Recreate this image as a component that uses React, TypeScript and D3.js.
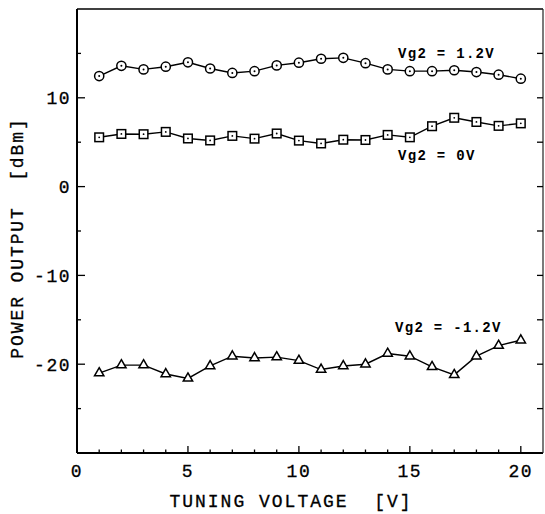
import React from "react";
import * as d3 from "d3";

const tuningVoltage = [1, 2, 3, 4, 5, 6, 7, 8, 9, 10, 11, 12, 13, 14, 15, 16, 17, 18, 19, 20];
const vgPos = [12.45, 13.6, 13.2, 13.5, 14.0, 13.3, 12.8, 13.0, 13.65, 13.95, 14.4, 14.5, 13.9, 13.2, 13.0, 13.0, 13.1, 12.9, 12.6, 12.15];
const vgZero = [5.55, 5.93, 5.9, 6.16, 5.42, 5.2, 5.71, 5.4, 5.98, 5.18, 4.86, 5.28, 5.25, 5.82, 5.55, 6.8, 7.75, 7.28, 6.84, 7.12];
const vgNeg = [-21.0, -20.1, -20.1, -21.1, -21.6, -20.2, -19.1, -19.3, -19.2, -19.6, -20.6, -20.2, -20.0, -18.8, -19.1, -20.3, -21.2, -19.1, -17.9, -17.3];
const seriesLabels = ["Vg2 = 1.2V", "Vg2 = 0V", "Vg2 = -1.2V"];
const xTickLabels = [0, 5, 10, 15, 20];
const yTickLabels = [10, 0, -10, -20];

const W = 545;
const H = 514;
const x = d3.scaleLinear().domain([0, 21]).range([77, 543]);
const y = d3.scaleLinear().domain([-30, 20]).range([453, 9]);
const mono = "'Liberation Mono', 'DejaVu Sans Mono', monospace";

export default function App() {
  const line = d3
    .line<number>()
    .x((_, i) => x(tuningVoltage[i]))
    .y((d) => y(d));
  const tri = d3.symbol().type(d3.symbolTriangle).size(38)() as string;
  const minorX = d3.range(1, 21);
  const minorY = d3.range(-25, 20, 5);
  const left = x(0);
  const right = x(21);
  const top = y(20);
  const bottom = y(-30);
  return (
    <svg width={W} height={H} style={{ position: "absolute", left: 0, top: 0, background: "#fff" }}>
      {/* frame */}
      <line x1={left} x2={left} y1={top} y2={bottom} stroke="#000" strokeWidth={2} />
      <line x1={left} x2={right} y1={bottom} y2={bottom} stroke="#000" strokeWidth={2} />
      <line x1={left} x2={right} y1={top} y2={top} stroke="#000" strokeWidth={1.6} />
      <line x1={right} x2={right} y1={top} y2={bottom} stroke="#222" strokeWidth={1.2} />
      {/* x ticks */}
      {minorX.map((v) => (
        <line key={"xt" + v} x1={x(v)} x2={x(v)} y1={bottom} y2={bottom - (v % 5 === 0 ? 7 : 3.5)} stroke="#000" strokeWidth={1.3} />
      ))}
      {xTickLabels.map((v) => (
        <text key={"xl" + v} x={x(v)} y={477} textAnchor="middle" fontFamily={mono} fontSize={18} letterSpacing={1.5} fill="#000" stroke="#000" strokeWidth={0.3}>
          {v}
        </text>
      ))}
      {/* y ticks */}
      {minorY.map((v) => (
        <g key={"yt" + v}>
          <line x1={left} x2={left + (v % 10 === 0 ? 8 : 4)} y1={y(v)} y2={y(v)} stroke="#000" strokeWidth={1.3} />
          <line x1={right} x2={right - 6} y1={y(v)} y2={y(v)} stroke="#000" strokeWidth={1.3} />
        </g>
      ))}
      {yTickLabels.map((v) => (
        <text key={"yl" + v} x={71} y={y(v)} dy="0.36em" textAnchor="end" fontFamily={mono} fontSize={18} letterSpacing={1.5} fill="#000" stroke="#000" strokeWidth={0.3}>
          {v}
        </text>
      ))}
      {/* axis titles */}
      <text x={291} y={507} textAnchor="middle" fontFamily={mono} fontSize={18} letterSpacing={2} fill="#000" stroke="#000" strokeWidth={0.3} style={{ whiteSpace: "pre" }}>
        {"TUNING VOLTAGE  [V]"}
      </text>
      <text transform="translate(23,238) rotate(-90)" textAnchor="middle" fontFamily={mono} fontSize={18} letterSpacing={1.9} fill="#000" stroke="#000" strokeWidth={0.3} style={{ whiteSpace: "pre" }}>
        {"POWER OUTPUT  [dBm]"}
      </text>
      {/* lines */}
      <path d={line(vgPos) as string} fill="none" stroke="#000" strokeWidth={1.4} />
      <path d={line(vgZero) as string} fill="none" stroke="#000" strokeWidth={1.4} />
      <path d={line(vgNeg) as string} fill="none" stroke="#000" strokeWidth={1.4} />
      {/* markers */}
      {vgPos.map((v, i) => (
        <g key={"c" + i} transform={`translate(${x(tuningVoltage[i])},${y(v)})`}>
          <circle r={4.6} fill="#fff" stroke="#000" strokeWidth={1.5} />
          <circle r={1} fill="#000" />
        </g>
      ))}
      {vgZero.map((v, i) => (
        <g key={"s" + i} transform={`translate(${x(tuningVoltage[i])},${y(v)})`}>
          <rect x={-4.3} y={-4.3} width={8.6} height={8.6} fill="#fff" stroke="#000" strokeWidth={1.5} />
          <circle r={0.9} fill="#000" />
        </g>
      ))}
      {vgNeg.map((v, i) => (
        <path key={"t" + i} d={tri} transform={`translate(${x(tuningVoltage[i])},${y(v)})`} fill="#fff" stroke="#000" strokeWidth={1.5} />
      ))}
      {/* series labels */}
      <text x={398} y={58} fontFamily={mono} fontWeight="bold" fontSize={14} letterSpacing={1.3} fill="#000" style={{ whiteSpace: "pre" }}>
        {seriesLabels[0]}
      </text>
      <text x={398} y={160} fontFamily={mono} fontWeight="bold" fontSize={14} letterSpacing={1.3} fill="#000" style={{ whiteSpace: "pre" }}>
        {seriesLabels[1]}
      </text>
      <text x={395} y={332} fontFamily={mono} fontWeight="bold" fontSize={14} letterSpacing={1.3} fill="#000" style={{ whiteSpace: "pre" }}>
        {seriesLabels[2]}
      </text>
    </svg>
  );
}
